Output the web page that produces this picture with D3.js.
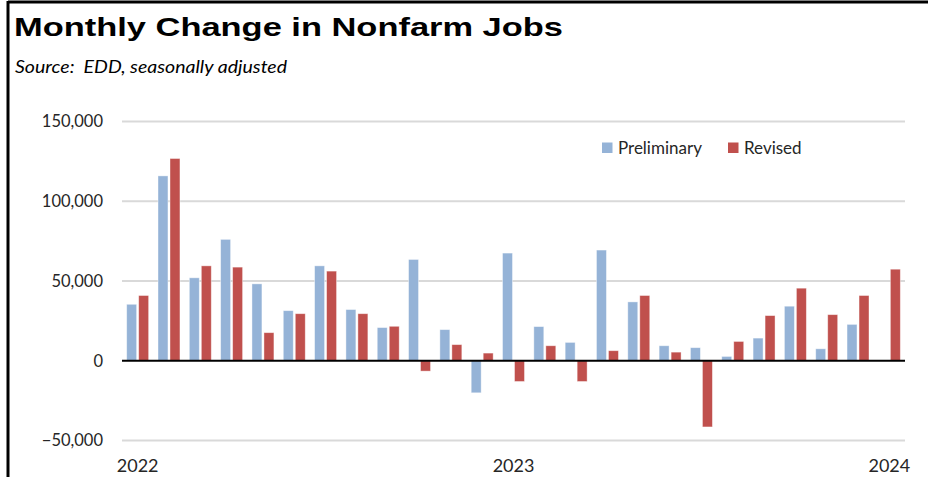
<!DOCTYPE html>
<html>
<head>
<meta charset="utf-8">
<script src="https://cdn.jsdelivr.net/npm/d3@7"></script>
<style>
  body { margin: 0; background: #fff; }
  svg { display: block; font-family: Lato, "Open Sans", sans-serif; }
</style>
</head>
<body>
<div id="chart"></div>
<script>
// months Jan 2022 - Jan 2024
var months = ['2022-01','2022-02','2022-03','2022-04','2022-05','2022-06','2022-07','2022-08','2022-09','2022-10','2022-11','2022-12',
              '2023-01','2023-02','2023-03','2023-04','2023-05','2023-06','2023-07','2023-08','2023-09','2023-10','2023-11','2023-12',
              '2024-01'];
var preliminary = [35400, 115900, 52000, 76100, 48200, 31400, 59500, 32100, 20800, 63500, 19500, -20100,
                   67500, 21400, 11500, 69400, 36900, 9400, 8200, 2700, 14200, 34200, 7500, 22800,
                   null];
var revised = [40900, 126800, 59500, 58700, 17600, 29500, 56200, 29500, 21600, -6500, 10100, 4800,
               -13000, 9400, -13000, 6300, 40900, 5400, -41500, 12100, 28300, 45500, 28900, 40900,
               57400];
var series = ['Preliminary', 'Revised'];
var yTicks = [-50000, 0, 50000, 100000, 150000];
var xTickMonths = ['2022-01', '2023-01', '2024-01'];
var xTickLabels = ['2022', '2023', '2024'];

(function() {
    var width = 928,
        height = 477,
        left = 122,
        right = 905,
        colors = {'Preliminary': '#95b3d7', 'Revised': '#c0504d'};

    var svg = d3.select('#chart').append('svg')
        .attr('width', width)
        .attr('height', height);

    // frame (top + left only)
    svg.append('line').attr('x1', 8).attr('x2', width).attr('y1', 2).attr('y2', 2)
        .attr('stroke', '#000').attr('stroke-width', 3);
    svg.append('line').attr('x1', 8).attr('x2', 8).attr('y1', 1).attr('y2', height)
        .attr('stroke', '#000').attr('stroke-width', 3);

    svg.append('text')
        .attr('x', 14).attr('y', 36)
        .attr('textLength', 549).attr('lengthAdjust', 'spacingAndGlyphs')
        .style('font-family', '"Liberation Sans", Arial, sans-serif')
        .style('font-weight', 700).style('font-size', '26px').attr('fill', '#000')
        .text('Monthly Change in Nonfarm Jobs');

    svg.append('text')
        .attr('x', 15).attr('y', 73)
        .attr('textLength', 272).attr('lengthAdjust', 'spacingAndGlyphs')
        .style('white-space', 'pre')
        .style('font-style', 'italic').style('font-size', '17px').attr('fill', '#000')
        .text('Source:  EDD, seasonally adjusted');

    var x0 = d3.scaleBand().domain(months).range([left, right]).padding(0),
        x1 = d3.scaleBand().domain(series).range([0, x0.bandwidth()]).paddingInner(0.17).paddingOuter(0.39),
        y = d3.scaleLinear().domain([-50000, 150000]).range([440.5, 121.5]);

    // gridlines
    svg.append('g').attr('class', 'grid').selectAll('line')
        .data(yTicks.filter(function(d) { return d !== 0; }))
        .enter().append('line')
        .attr('x1', left).attr('x2', right)
        .attr('y1', function(d) { return y(d); })
        .attr('y2', function(d) { return y(d); })
        .attr('stroke', '#d9d9d9').attr('stroke-width', 2);

    // y axis labels
    var yAxis = d3.axisLeft(y).tickValues(yTicks).tickSize(0).tickPadding(0)
        .tickFormat(d3.format(','));
    svg.append('g')
        .attr('transform', 'translate(103,0)')
        .call(yAxis)
        .call(function(g) {
            g.select('.domain').remove();
            g.selectAll('text').style('font-size', '16.5px').style('font-family', 'Lato, sans-serif')
                .attr('fill', '#262626');
        });

    // bars
    var rows = months.map(function(m, i) {
        return {month: m, values: [
            {key: 'Preliminary', value: preliminary[i]},
            {key: 'Revised', value: revised[i]}
        ]};
    });

    var groups = svg.append('g').attr('class', 'bars').selectAll('g')
        .data(rows)
        .enter().append('g')
        .attr('transform', function(d) { return 'translate(' + x0(d.month) + ',0)'; });

    groups.selectAll('rect')
        .data(function(d) { return d.values.filter(function(v) { return v.value !== null; }); })
        .enter().append('rect')
        .attr('x', function(d) { return x1(d.key); })
        .attr('width', x1.bandwidth())
        .attr('y', function(d) { return y(Math.max(0, d.value)); })
        .attr('height', function(d) { return Math.abs(y(d.value) - y(0)); })
        .attr('fill', function(d) { return colors[d.key]; })
        .attr('stroke', '#fff').attr('stroke-opacity', 0.5).attr('stroke-width', 0.8);

    // zero line
    svg.append('line')
        .attr('x1', left).attr('x2', right)
        .attr('y1', y(0)).attr('y2', y(0))
        .attr('stroke', '#000').attr('stroke-width', 2);

    // x labels
    var xAxis = d3.axisBottom(x0).tickValues(xTickMonths).tickSize(0).tickPadding(0)
        .tickFormat(function(d) { return xTickLabels[xTickMonths.indexOf(d)]; });
    svg.append('g')
        .attr('transform', 'translate(0,459)')
        .call(xAxis)
        .call(function(g) {
            g.select('.domain').remove();
            g.selectAll('text').attr('dy', '0.71em').style('font-size', '18px')
                .style('font-family', 'Lato, sans-serif').attr('fill', '#262626');
        });

    // legend
    var legend = svg.append('g').attr('class', 'legend').selectAll('g')
        .data(series)
        .enter().append('g')
        .attr('transform', function(d, i) { return 'translate(' + [602, 728][i] + ',142.5)'; });
    legend.append('rect')
        .attr('width', 10.5).attr('height', 10.5)
        .attr('fill', function(d) { return colors[d]; });
    legend.append('text')
        .attr('x', 16).attr('y', 11)
        .style('font-size', '17px').attr('fill', '#262626')
        .text(function(d) { return d; });
})();
</script>
</body>
</html>
